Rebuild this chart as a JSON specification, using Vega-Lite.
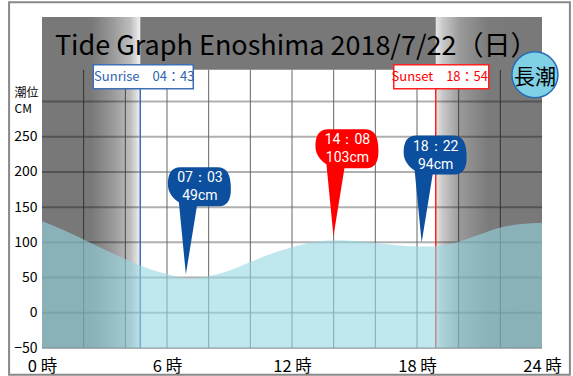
{
  "$schema": "https://vega.github.io/schema/vega-lite/v6.json",
  "width": 500,
  "height": 331,
  "autosize": "none",
  "padding": {"left": 42, "top": 17, "right": 31, "bottom": 28},
  "background": "white",
  "config": {
    "view": {"stroke": null},
    "font": "Noto Sans CJK JP",
    "axis": {"grid": false, "domain": false, "ticks": false, "labelColor": "black", "labelFont": "Noto Sans CJK JP"}
  },
  "datasets": {
    "tide": [
      {"hour": 0, "level": 130}, {"hour": 1, "level": 118}, {"hour": 2, "level": 104},
      {"hour": 3, "level": 90}, {"hour": 4, "level": 76}, {"hour": 5, "level": 64},
      {"hour": 6, "level": 55}, {"hour": 7.05, "level": 49}, {"hour": 8, "level": 52},
      {"hour": 9, "level": 60}, {"hour": 10, "level": 72}, {"hour": 11, "level": 84},
      {"hour": 12, "level": 93}, {"hour": 13, "level": 100}, {"hour": 14.133, "level": 103},
      {"hour": 15, "level": 102}, {"hour": 16, "level": 99}, {"hour": 17, "level": 96},
      {"hour": 18.367, "level": 94}, {"hour": 19, "level": 95}, {"hour": 20, "level": 101},
      {"hour": 21, "level": 111}, {"hour": 22, "level": 121}, {"hour": 23, "level": 126},
      {"hour": 24, "level": 128}
    ],
    "pins": [
      {"type": "干潮", "hour": 7.05, "level": 49, "time": "07：03", "label": "49cm"},
      {"type": "満潮", "hour": 14.133, "level": 103, "time": "14：08", "label": "103cm"},
      {"type": "干潮", "hour": 18.367, "level": 94, "time": "18：22", "label": "94cm"}
    ],
    "events": [
      {"event": "Sunrise", "hour": 4.717, "label": "Sunrise　04：43"},
      {"event": "Sunset", "hour": 18.9, "label": "Sunset　18：54"}
    ],
    "hgrid": [{"v": -50}, {"v": 0}, {"v": 50}, {"v": 100}, {"v": 150}, {"v": 200}, {"v": 250}, {"v": 300}],
    "vgrid": [{"h": 2}, {"h": 4}, {"h": 6}, {"h": 8}, {"h": 10}, {"h": 12}, {"h": 14}, {"h": 16}, {"h": 18}, {"h": 20}, {"h": 22}]
  },
  "resolve": {"scale": {"color": "independent", "stroke": "independent", "shape": "independent", "fill": "independent"}},
  "layer": [
    {
      "data": {"values": [{"k": "frame"}]},
      "mark": {"type": "rect", "fill": null, "stroke": "#888888", "strokeWidth": 2, "clip": false},
      "encoding": {
        "x": {"datum": -1.58, "type": "quantitative", "scale": {"domain": [0, 24], "nice": false, "zero": false},
          "axis": {"values": [0, 6, 12, 18, 24], "labelExpr": "datum.value + ' 時'", "labelFontSize": 16.5, "labelPadding": 10, "labelBaseline": "top", "title": null, "labelFlush": false}},
        "x2": {"datum": 25.34},
        "y": {"datum": -88, "type": "quantitative", "scale": {"domain": [-50, 420], "nice": false, "zero": false},
          "axis": {"values": [-50, 0, 50, 100, 150, 200, 250], "labelFontSize": 14, "labelPadding": 5,
            "title": ["潮位", "CM"], "titleAngle": 0, "titleAlign": "left", "titleBaseline": "top", "titleX": -28, "titleY": 70, "titleFontSize": 12, "titleFontWeight": "normal", "titleLineHeight": 16}},
        "y2": {"datum": 441}
      }
    },
    {
      "data": {"values": [{"k": "band"}]},
      "mark": {"type": "rect", "fill": "#787878"},
      "encoding": {
        "x": {"datum": 4.717, "type": "quantitative"}, "x2": {"datum": 18.9},
        "y": {"datum": 345, "type": "quantitative"}, "y2": {"datum": 420}
      }
    },
    {
      "data": {"name": "hgrid"},
      "mark": {"type": "rule", "stroke": "#b0b0b0", "strokeWidth": 2},
      "encoding": {
        "y": {"field": "v", "type": "quantitative"},
        "x": {"datum": 0, "type": "quantitative"}, "x2": {"datum": 24}
      }
    },
    {
      "data": {"name": "vgrid"},
      "mark": {"type": "rule", "stroke": "#666666", "strokeWidth": 1},
      "encoding": {
        "x": {"field": "h", "type": "quantitative"},
        "y": {"datum": -50, "type": "quantitative"}, "y2": {"datum": 345}
      }
    },
    {
      "data": {"values": [{"k": "night1"}]},
      "mark": {"type": "rect", "fill": {"gradient": "linear", "x1": 0, "y1": 0, "x2": 1, "y2": 0,
        "stops": [
          {"offset": 0, "color": "rgba(0,0,0,0.53)"},
          {"offset": 0.5, "color": "rgba(0,0,0,0.53)"},
          {"offset": 0.72, "color": "rgba(0,0,0,0.4)"},
          {"offset": 0.9, "color": "rgba(0,0,0,0.26)"},
          {"offset": 1, "color": "rgba(0,0,0,0.05)"}
        ]}},
      "encoding": {
        "x": {"datum": 0, "type": "quantitative"}, "x2": {"datum": 4.717},
        "y": {"datum": -50, "type": "quantitative"}, "y2": {"datum": 420}
      }
    },
    {
      "data": {"values": [{"k": "night2"}]},
      "mark": {"type": "rect", "fill": {"gradient": "linear", "x1": 0, "y1": 0, "x2": 1, "y2": 0,
        "stops": [
          {"offset": 0, "color": "rgba(0,0,0,0.1)"},
          {"offset": 0.07, "color": "rgba(0,0,0,0.22)"},
          {"offset": 0.23, "color": "rgba(0,0,0,0.4)"},
          {"offset": 0.5, "color": "rgba(0,0,0,0.52)"},
          {"offset": 1, "color": "rgba(0,0,0,0.53)"}
        ]}},
      "encoding": {
        "x": {"datum": 18.9, "type": "quantitative"}, "x2": {"datum": 24},
        "y": {"datum": -50, "type": "quantitative"}, "y2": {"datum": 420}
      }
    },
    {
      "data": {"name": "events"},
      "mark": {"type": "rule", "strokeWidth": 1.5},
      "encoding": {
        "x": {"field": "hour", "type": "quantitative"},
        "y": {"datum": -50, "type": "quantitative"}, "y2": {"datum": 318},
        "color": {"field": "event", "type": "nominal", "scale": {"domain": ["Sunrise", "Sunset"], "range": ["#3d6fb6", "#ff2020"]}, "legend": null}
      }
    },
    {
      "data": {"name": "tide"},
      "mark": {"type": "area", "interpolate": "monotone", "fill": "rgb(150,213,227)", "fillOpacity": 0.6},
      "encoding": {
        "x": {"field": "hour", "type": "quantitative"},
        "y": {"field": "level", "type": "quantitative"},
        "y2": {"datum": -50}
      }
    },
    {
      "data": {"name": "events"},
      "mark": {"type": "point", "filled": true, "fill": "white", "size": 4, "strokeWidth": 1.5, "opacity": 1},
      "encoding": {
        "x": {"field": "hour", "type": "quantitative"},
        "y": {"datum": 335, "type": "quantitative"},
        "shape": {"field": "event", "type": "nominal", "scale": {"domain": ["Sunrise", "Sunset"], "range": ["M-47,-12H53V12H-47Z", "M-42,-12H53V12H-42Z"]}, "legend": null},
        "stroke": {"field": "event", "type": "nominal", "scale": {"domain": ["Sunrise", "Sunset"], "range": ["#3d6fb6", "#ff2020"]}, "legend": null}
      }
    },
    {
      "data": {"name": "events"},
      "mark": {"type": "text", "fontSize": 13, "dx": 4, "align": "center", "baseline": "middle"},
      "encoding": {
        "x": {"field": "hour", "type": "quantitative"},
        "y": {"datum": 335, "type": "quantitative"},
        "text": {"field": "label"},
        "color": {"field": "event", "type": "nominal", "scale": {"domain": ["Sunrise", "Sunset"], "range": ["#2f64b0", "#ff0000"]}, "legend": null}
      }
    },
    {
      "data": {"name": "pins"},
      "mark": {"type": "point", "filled": true, "size": 4, "strokeWidth": 0, "opacity": 1,
        "shape": "M-3,-4 L8,-72 L30,-72 C38,-72 42,-78 42,-89 C42,-103 39,-111 28,-111 L-8,-111 C-18,-111 -21,-104 -21,-94 C-21,-86 -16,-80 -10,-76 Z"},
      "encoding": {
        "x": {"field": "hour", "type": "quantitative"},
        "y": {"field": "level", "type": "quantitative"},
        "fill": {"field": "type", "type": "nominal", "scale": {"domain": ["干潮", "満潮"], "range": ["#0b4f9e", "#ff0000"]}, "legend": null}
      }
    },
    {
      "data": {"name": "pins"},
      "mark": {"type": "text", "font": "Roboto", "fontSize": 14, "color": "white", "dx": 11, "dy": -100, "align": "center", "baseline": "middle"},
      "encoding": {
        "x": {"field": "hour", "type": "quantitative"},
        "y": {"field": "level", "type": "quantitative"},
        "text": {"field": "time"}
      }
    },
    {
      "data": {"name": "pins"},
      "mark": {"type": "text", "font": "Roboto", "fontSize": 14, "color": "white", "dx": 11, "dy": -82, "align": "center", "baseline": "middle"},
      "encoding": {
        "x": {"field": "hour", "type": "quantitative"},
        "y": {"field": "level", "type": "quantitative"},
        "text": {"field": "label"}
      }
    },
    {
      "data": {"values": [{"title": "Tide Graph Enoshima 2018/7/22（日）"}]},
      "mark": {"type": "text", "fontSize": 27, "color": "black", "align": "left", "baseline": "alphabetic"},
      "encoding": {
        "x": {"datum": 0.62, "type": "quantitative"},
        "y": {"datum": 366, "type": "quantitative"},
        "text": {"field": "title"}
      }
    },
    {
      "data": {"values": [{"tide": "長潮"}]},
      "mark": {"type": "point", "shape": "circle", "filled": true, "fill": "#80d0e6", "stroke": "#2a6db5", "strokeWidth": 1.5, "size": 2124, "opacity": 1},
      "encoding": {
        "x": {"datum": 23.66, "type": "quantitative"},
        "y": {"datum": 338, "type": "quantitative"}
      }
    },
    {
      "data": {"values": [{"tide": "長潮"}]},
      "mark": {"type": "text", "fontSize": 21, "color": "black", "align": "center", "baseline": "middle"},
      "encoding": {
        "x": {"datum": 23.66, "type": "quantitative"},
        "y": {"datum": 333, "type": "quantitative"},
        "text": {"field": "tide"}
      }
    }
  ]
}
